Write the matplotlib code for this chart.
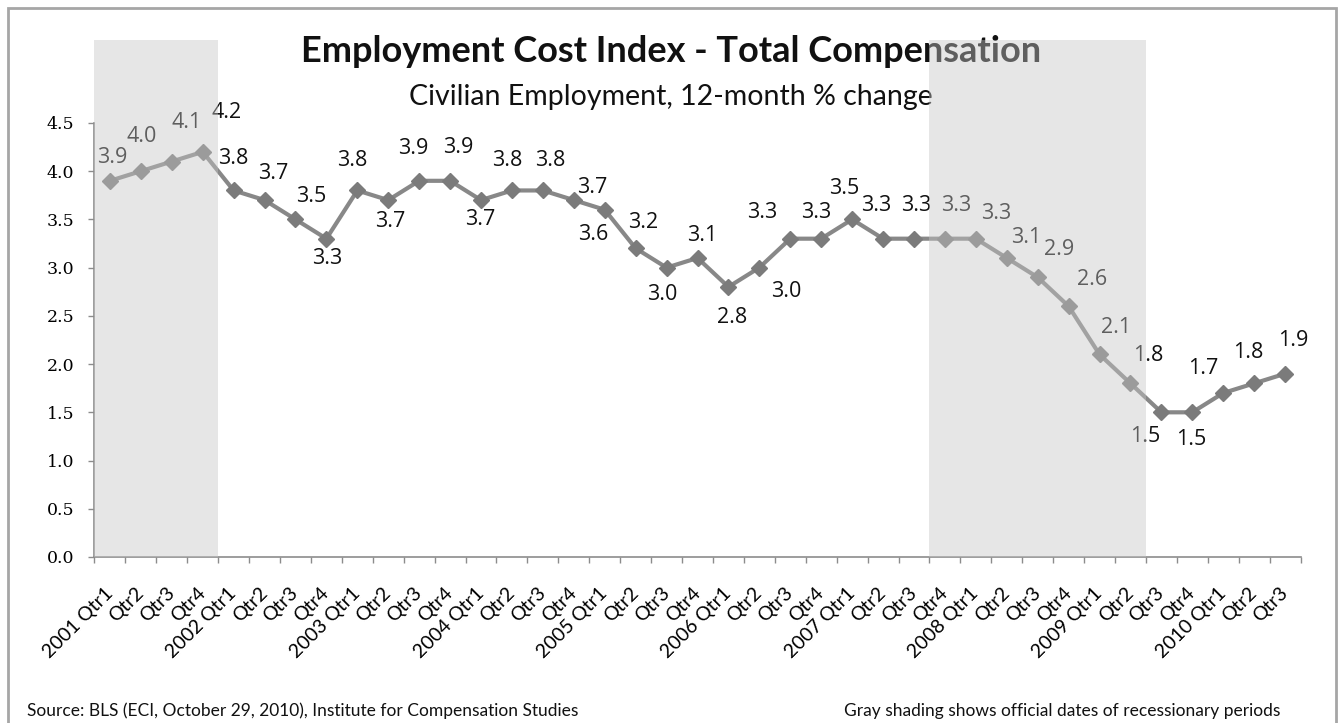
import matplotlib
matplotlib.use('Agg')
import matplotlib.pyplot as plt
from matplotlib.patches import Rectangle

# ECI total compensation, civilian workers, 12-month % change
years = [2001, 2002, 2003, 2004, 2005, 2006, 2007, 2008, 2009, 2010]
quarters = ['Qtr1', 'Qtr2', 'Qtr3', 'Qtr4']
values = [3.9, 4.0, 4.1, 4.2,
          3.8, 3.7, 3.5, 3.3,
          3.8, 3.7, 3.9, 3.9,
          3.7, 3.8, 3.8, 3.7,
          3.6, 3.2, 3.0, 3.1,
          2.8, 3.0, 3.3, 3.3,
          3.5, 3.3, 3.3, 3.3,
          3.3, 3.1, 2.9, 2.6,
          2.1, 1.8, 1.5, 1.5,
          1.7, 1.8, 1.9]
# recessions, as (first, last) quarter index
recessions = [(0, 3), (27, 33)]

tick_labels = []
for y in years:
    for q in quarters:
        tick_labels.append(f'{y} {q}' if q == 'Qtr1' else q)
tick_labels = tick_labels[:len(values)]

# where each value label sits relative to its marker (pixels)
label_offsets = [(2, 23), (1, 35), (15, 39), (24, 39),
                 (0, 32), (9, 27), (16, 23), (1, -20),
                 (-5, 30), (2, -21), (-6, 32), (8, 33),
                 (-1, -19), (-5, 30), (7, 30), (18, 13),
                 (-12, -25), (7, 26), (-4, -27), (5, 22),
                 (4, -31), (27, -24), (-28, 26), (-5, 26),
                 (-8, 31), (-7, 33), (2, 33), (11, 33),
                 (20, 25), (19, 20), (21, 28), (23, 27),
                 (17, 27), (18, 28), (-16, -24), (-1, -27),
                 (-20, 25), (-6, 31), (8, 33)]

plt.rcParams['font.family'] = ['Lato', 'DejaVu Sans']

fig = plt.figure(figsize=(13.42, 7.23), dpi=100)
ax = fig.add_axes([0.0704, 0.2296, 0.8987, 0.7151])

x = list(range(len(values)))
ax.plot(x, values, color='#888888', lw=3, zorder=2)
ax.plot(x, values, 'D', color='#7b7b7b', ms=8.5, zorder=3)

for i, v in enumerate(values):
    dx, dy = label_offsets[i]
    ax.annotate(f'{v:.1f}', (i, v), xytext=(dx, dy), textcoords='offset pixels',
                ha='center', va='center', fontsize=15.5, family=['Open Sans', 'DejaVu Sans'],
                color='#111111', zorder=4)

# recession shading sits over everything, so marks under it look washed out
for a, b in recessions:
    ax.axvspan(a - 0.5, b + 0.5, facecolor='#c6c6c6', alpha=0.43, lw=0, zorder=10)

ax.text(0.5, 0.914, 'Employment Cost Index - Total Compensation', transform=fig.transFigure,
        ha='center', va='baseline', fontsize=26, fontweight='bold', color='#111111', zorder=5)
ax.text(0.5, 0.855, 'Civilian Employment, 12-month % change', transform=fig.transFigure,
        ha='center', va='baseline', fontsize=20.5, color='#111111', zorder=5)

ax.set_xlim(-0.5, len(values) - 0.5)
ax.set_ylim(0, 5.36)

for s in ['top', 'right']:
    ax.spines[s].set_visible(False)
ax.spines['left'].set_bounds(0, 4.5)
for s in ['left', 'bottom']:
    ax.spines[s].set_color('#8c8c8c')
    ax.spines[s].set_linewidth(1.2)

ax.set_yticks([i * 0.5 for i in range(10)])
ax.set_yticklabels([f'{i * 0.5:.1f}' for i in range(10)], family='DejaVu Serif', fontsize=12.5)
ax.tick_params(axis='y', length=4.5, width=1, color='#8c8c8c', pad=10)

ax.set_xticks(x)
ax.set_xticklabels(tick_labels, rotation=45, ha='right', va='center',
                   rotation_mode='anchor', fontsize=14)
ax.set_xticks([i - 0.5 for i in range(len(values) + 1)], minor=True)
ax.tick_params(axis='x', which='major', length=0, pad=24)
ax.tick_params(axis='x', which='minor', length=4.5, width=1, color='#8c8c8c')

fig.text(0.020, 0.009, 'Source: BLS (ECI, October 29, 2010), Institute for Compensation Studies',
         ha='left', va='baseline', fontsize=12.5, color='#111111')
fig.text(0.954, 0.009, 'Gray shading shows official dates of recessionary periods',
         ha='right', va='baseline', fontsize=12.5, color='#111111')

fig.patches.append(Rectangle((0.006, -0.05), 0.9895, 1.039, transform=fig.transFigure,
                             fill=False, edgecolor='#a6a6a6', lw=2))

fig.savefig('out.png', dpi=100)
